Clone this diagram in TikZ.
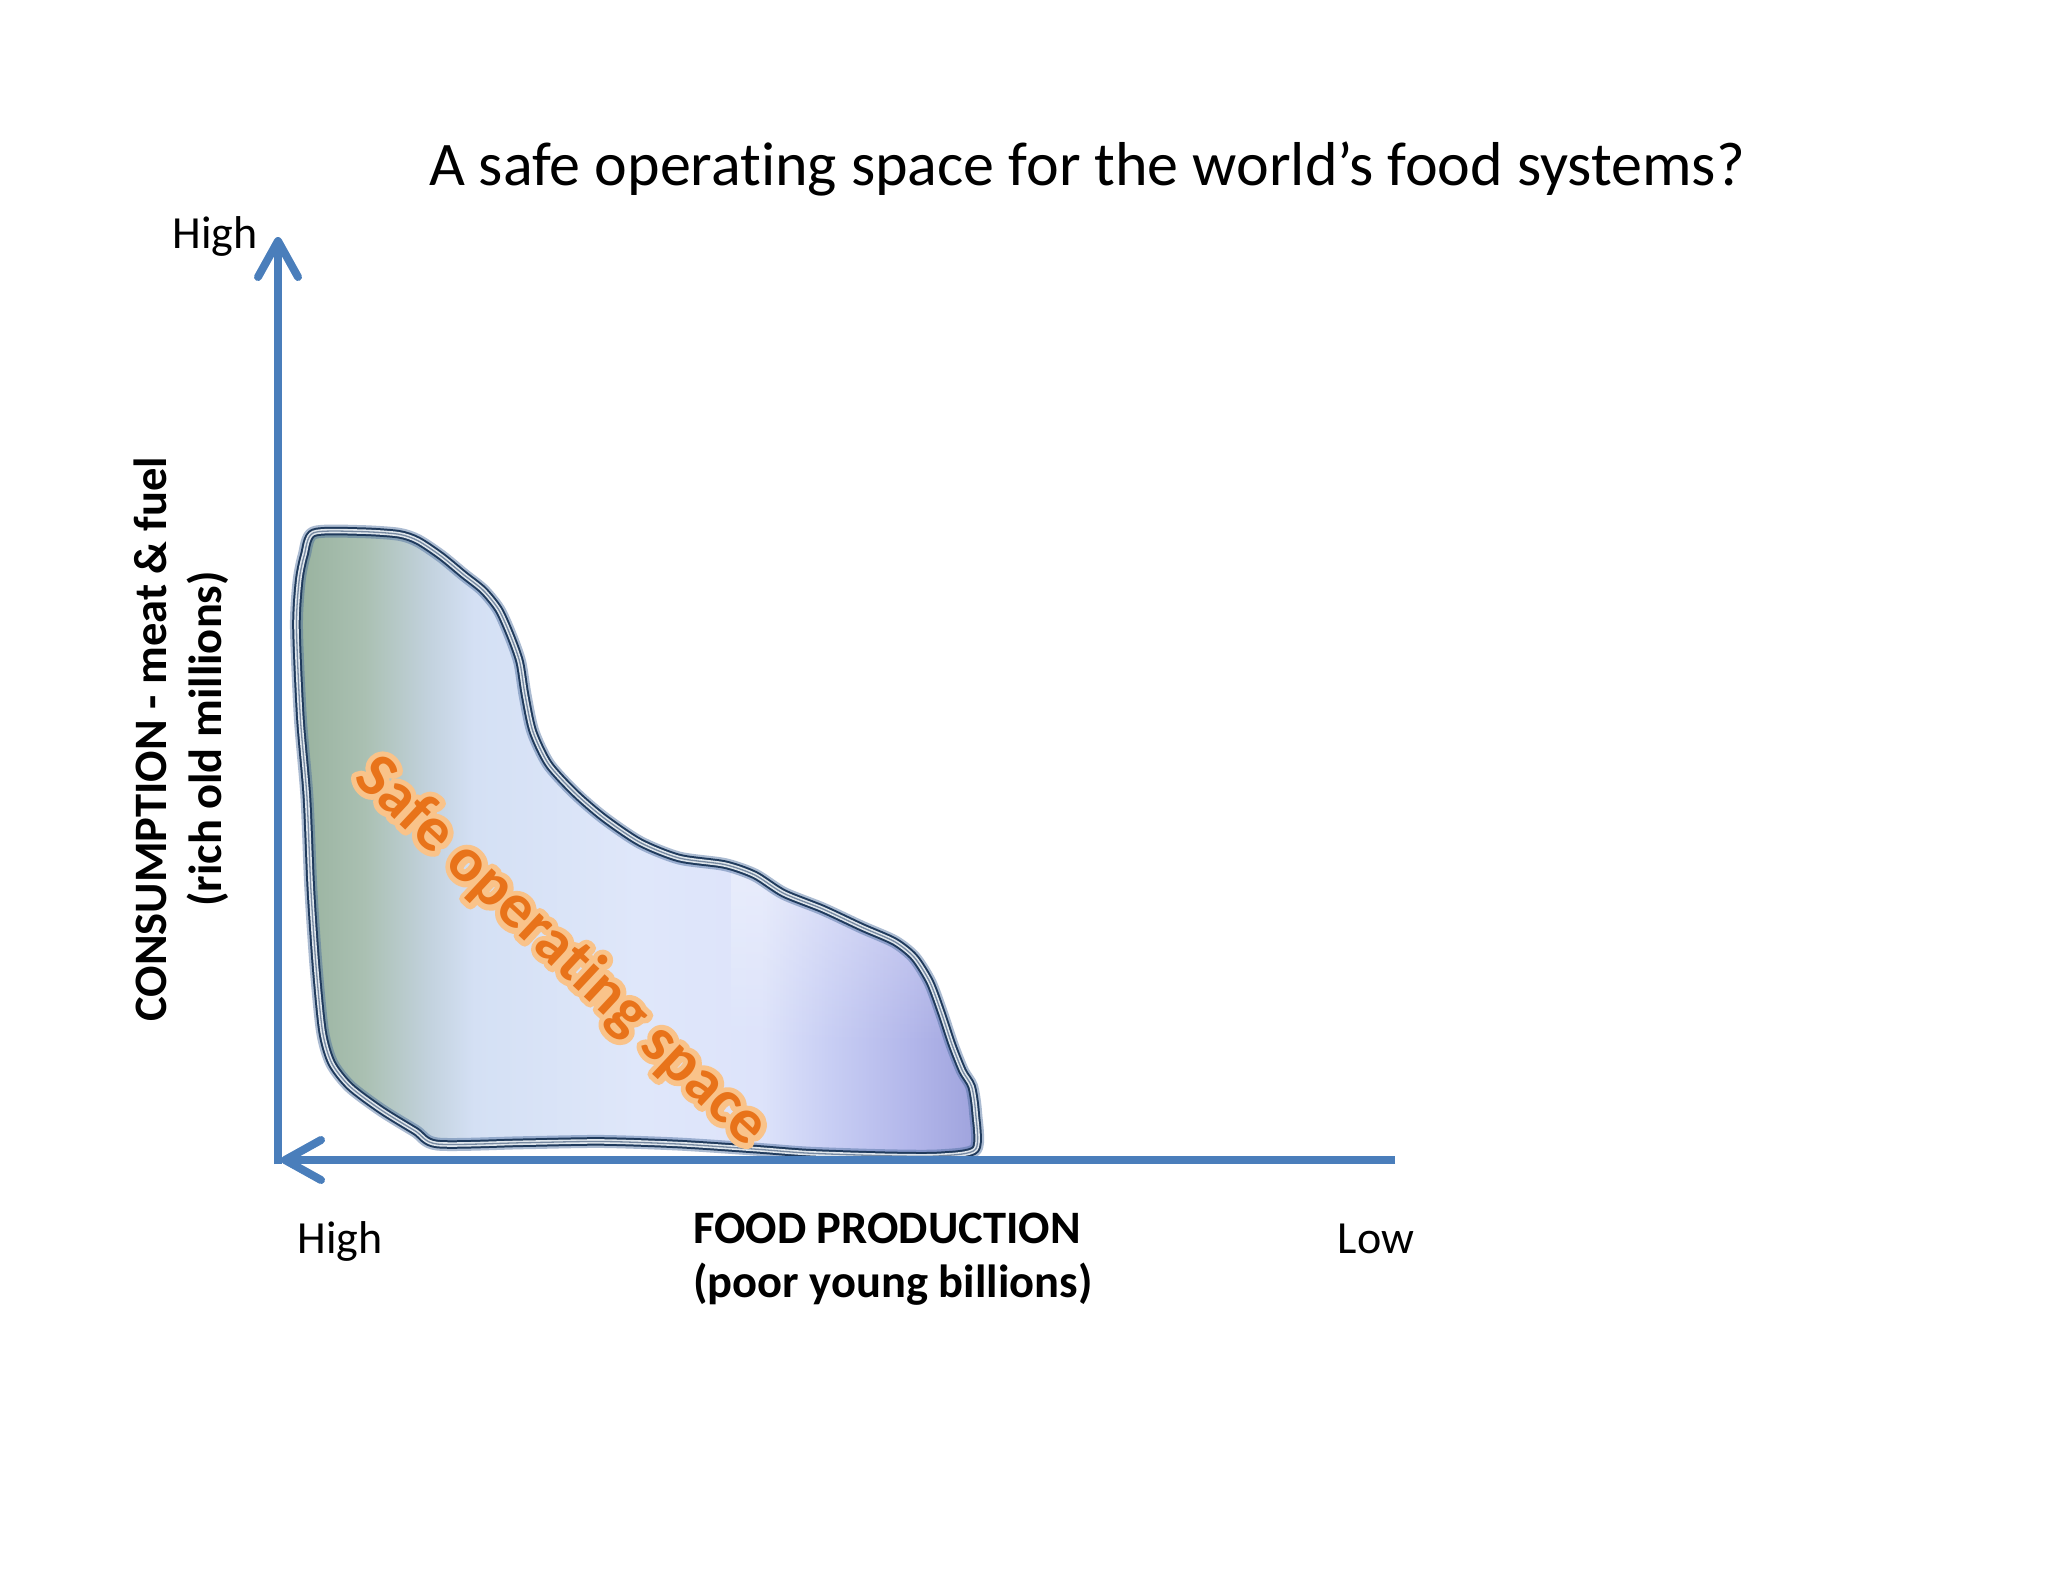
\documentclass[tikz,border=0pt]{standalone}
\usepackage{fontspec}
\setmainfont{Carlito}[Ligatures=NoCommon]
\usetikzlibrary{arrows.meta,fadings}
\definecolor{axisblue}{RGB}{74,126,187}
\definecolor{edgeglow}{RGB}{70,105,155}
\definecolor{edgedark}{RGB}{31,58,92}
\definecolor{edgelight}{RGB}{223,230,236}
\definecolor{edgemid}{RGB}{120,138,162}
\definecolor{safeorange}{RGB}{232,115,26}
\definecolor{s0}{RGB}{152,178,158}
\definecolor{s1}{RGB}{170,192,178}
\definecolor{s2}{RGB}{196,211,224}
\definecolor{s3}{RGB}{212,224,244}
\definecolor{s4}{RGB}{223,231,250}
\definecolor{s5}{RGB}{221,227,250}
\definecolor{s6}{RGB}{200,206,244}
\definecolor{s7}{RGB}{178,182,234}
\definecolor{s8}{RGB}{158,162,220}
\pgfdeclarehorizontalshading{blobshade}{100bp}{color(0bp)=(s0); color(25bp)=(s0); color(30bp)=(s1); color(35bp)=(s2); color(38bp)=(s3); color(50bp)=(s4); color(59bp)=(s5); color(64bp)=(s6); color(70bp)=(s7); color(75bp)=(s8); color(100bp)=(s8)}
\newcommand{\glowstroke}[1]{\special{pdf:literal direct 1 Tr 11 w 1 J 1 j 0.976 0.765 0.54 RG}#1\special{pdf:literal direct 0 Tr}}
\tikzset{
  axisline/.style={line width=8pt, draw=axisblue, -{Straight Barb[length=36pt, width=40pt, round]}},
  lbl/.style={font=\fontsize{46}{54}\selectfont, inner sep=0pt},
  blbl/.style={font=\fontsize{46.5}{55}\selectfont\bfseries, inner sep=0pt},
  safetext/.style={font=\fontsize{63}{70}\selectfont\bfseries, inner sep=0pt, rotate=-43, text=safeorange},
}
\def\blob{plot[smooth cycle, tension=0.45] coordinates {
 (240,408) (275,407) (305,409) (320,414) (338,426) (355,440) (370,452) (382,467) (391,487) (398,507) (402,532) (408,560) (420,585) (440,607) (462,626) (490,645) (520,657) (555,662) (578,670) (600,684) (630,696) (660,710) (685,721) (700,733) (712,752) (721,776) (729,800) (737,820) (744,832) (747,852) (747,880)
 (720,885) (680,885) (620,883) (580,880) (520,876) (460,874) (400,875) (335,876) (318,866) (292,850) (268,832) (254,814) (247,790) (242,740) (238,680) (235,610) (230,550) (227,480) (229,445) (233,425)}}
\begin{document}
\begin{tikzpicture}[x=1pt,y=-1pt]
\useasboundingbox (0,0) rectangle (2048,1582);
\fill[white] (0,0) rectangle (2048,1582);
% title
\node[font=\fontsize{62}{70}\selectfont, inner sep=0pt, anchor=base] (title) at (1087,185) {A safe operating space for the world’s food systems?};
% blob
\begin{scope}[scale=1.306]
\shade[shading=blobshade] \blob;
\begin{scope}
\clip \blob;
\fill[white, opacity=0.35, path fading=south] (560,660) rectangle (760,800);
\end{scope}
\draw[edgeglow, opacity=0.45, line width=13pt, line join=round] \blob;
\draw[edgedark, line width=8.5pt, line join=round] \blob;
\draw[edgelight, line width=4.5pt, line join=round] \blob;
\draw[edgemid, line width=1.3pt, line join=round] \blob;
\end{scope}
% safe operating space text with glow
\node[safetext] (safe) at (561,952) {\rlap{\glowstroke{Safe operating space}}Safe operating space};
% axes
\coordinate (O) at (278,1164);
\coordinate (ytip) at (278,237);
\coordinate (xstart) at (1395,1160);
\coordinate (xtip) at (281,1160);
\draw[axisline] (O) -- (ytip);
\draw[axisline] (xstart) -- (xtip);
% labels
\node[lbl, anchor=base] (hightop) at (215,248) {High};
\node[lbl, anchor=base] (highbot) at (340,1253) {High};
\node[lbl, anchor=base] (low) at (1376,1253) {Low};
\node[blbl, anchor=base west] (food1) at (693,1243) {FOOD PRODUCTION};
\node[blbl, anchor=base west] (food2) at (693,1297) {(poor young billions)};
\node[blbl, rotate=90, align=center] (ylab) at (181,739) {CONSUMPTION - meat \& fuel\\(rich old millions)};
\end{tikzpicture}
\end{document}
